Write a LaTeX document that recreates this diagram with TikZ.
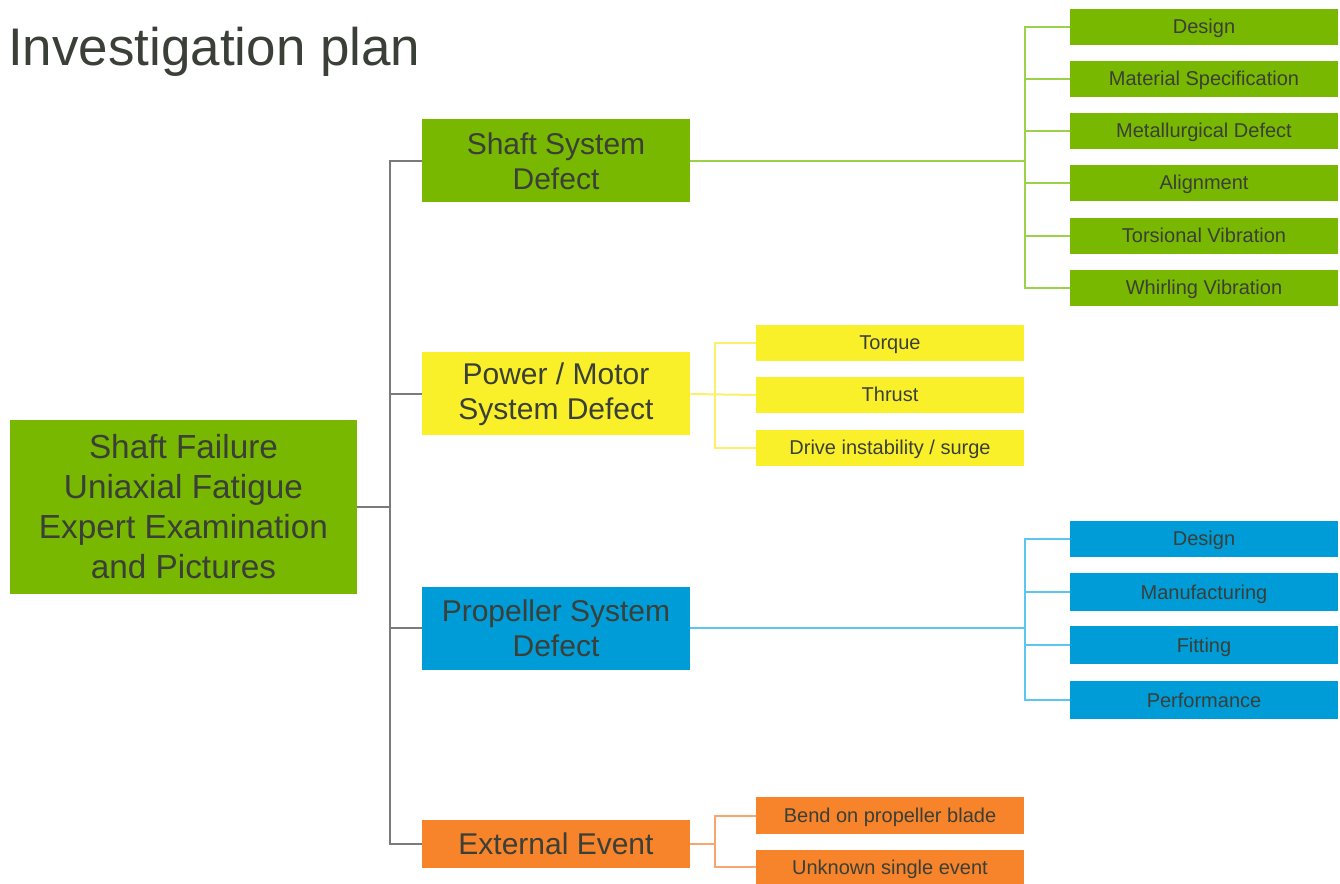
\documentclass[tikz,border=0pt]{standalone}
\usepackage{fontspec}
\setmainfont{Liberation Sans}
\definecolor{gbox}{HTML}{78B800}
\definecolor{ybox}{HTML}{FAF02A}
\definecolor{bbox}{HTML}{009CD8}
\definecolor{obox}{HTML}{F7832A}
\definecolor{gline}{HTML}{9CD14A}
\definecolor{yline}{HTML}{FAF06A}
\definecolor{bline}{HTML}{5CC6F2}
\definecolor{oline}{HTML}{F8A56E}
\definecolor{trunkc}{HTML}{7A7A7A}
\definecolor{txt}{HTML}{3A3F38}
\tikzset{
  box/.style={rectangle, inner sep=0pt, align=center, text=txt},
  rootbox/.style={box, fill=gbox, minimum width=260.25pt, minimum height=130.5pt, font=\fontsize{25}{30}\selectfont},
  midbox/.style={box, minimum width=201pt, minimum height=62.25pt, font=\fontsize{22.5}{26}\selectfont},
  leafbox/.style={box, minimum width=201pt, minimum height=27pt, font=\fontsize{15}{18}\selectfont, text height=10.5pt, text depth=0pt},
  trunkline/.style={draw=trunkc, line width=1.5pt},
  gl/.style={draw=gline, line width=1.5pt},
  yl/.style={draw=yline, line width=1.5pt},
  bl/.style={draw=bline, line width=1.5pt},
  ol/.style={draw=oline, line width=1.5pt},
}
\begin{document}
\begin{tikzpicture}[x=0.75pt, y=-0.75pt]
\useasboundingbox (0,0) rectangle (1340,884);
\fill[white] (0,0) rectangle (1340,884);

\node[anchor=base west, inner sep=0pt, text=txt, font=\fontsize{39.7}{46}\selectfont] (title) at (8,66) {Investigation plan};

% main nodes
\node[rootbox] (root) at (183.5,507) {Shaft Failure\\Uniaxial Fatigue\\Expert Examination\\and Pictures};
\node[midbox, fill=gbox] (ss) at (556,161) {Shaft System\\Defect};
\node[midbox, fill=ybox] (pm) at (556,394) {Power / Motor\\System Defect};
\node[midbox, fill=bbox] (pr) at (556,628) {Propeller System\\Defect};
\node[midbox, fill=obox, minimum height=36pt, text height=16pt, text depth=0pt] (ex) at (556,844) {External Event};

% shaft children
\node[leafbox, fill=gbox] (g1) at (1204,27) {Design};
\node[leafbox, fill=gbox] (g2) at (1204,79) {Material Specification};
\node[leafbox, fill=gbox] (g3) at (1204,131) {Metallurgical Defect};
\node[leafbox, fill=gbox] (g4) at (1204,183) {Alignment};
\node[leafbox, fill=gbox] (g5) at (1204,236) {Torsional Vibration};
\node[leafbox, fill=gbox] (g6) at (1204,288) {Whirling Vibration};

% power children
\node[leafbox, fill=ybox] (y1) at (890,343) {Torque};
\node[leafbox, fill=ybox] (y2) at (890,395) {Thrust};
\node[leafbox, fill=ybox] (y3) at (890,448) {Drive instability / surge};

% propeller children
\node[leafbox, fill=bbox] (b1) at (1204,539) {Design};
\node[leafbox, fill=bbox, minimum height=28.5pt] (b2) at (1204,592) {Manufacturing};
\node[leafbox, fill=bbox, minimum height=28.5pt] (b3) at (1204,645) {Fitting};
\node[leafbox, fill=bbox, minimum height=28.5pt] (b4) at (1204,700) {Performance};

% external children
\node[leafbox, fill=obox, minimum height=27.75pt] (o1) at (890,815.5) {Bend on propeller blade};
\node[leafbox, fill=obox, minimum height=25.5pt] (o2) at (890,867) {Unknown single event};

% bus coordinates
\coordinate (tk) at (390,0);
\coordinate (gb) at (1025,0);
\coordinate (yb) at (715,0);

% trunk
\draw[trunkline] (root.east) -- (root.east -| tk);
\draw[trunkline] (ss.west) -- (ss.west -| tk) -- (ex.west -| tk) -- (ex.west);
\draw[trunkline] (pm.west) -- (pm.west -| tk);
\draw[trunkline] (pr.west) -- (pr.west -| tk);

% shaft branch
\draw[gl] (ss.east) -- (ss.east -| gb);
\draw[gl] (g1.west) -- (g1.west -| gb) -- (g6.west -| gb) -- (g6.west);
\foreach \n in {g2,g3,g4,g5} \draw[gl] (\n.west) -- (\n.west -| gb);

% power branch
\draw[yl] (pm.east) -- (y2.west);
\draw[yl] (y1.west) -- (y1.west -| yb) -- (y3.west -| yb) -- (y3.west);

% propeller branch
\draw[bl] (pr.east) -- (pr.east -| gb);
\draw[bl] (b1.west) -- (b1.west -| gb) -- (b4.west -| gb) -- (b4.west);
\foreach \n in {b2,b3} \draw[bl] (\n.west) -- (\n.west -| gb);

% external branch
\draw[ol] (ex.east) -- (ex.east -| yb);
\draw[ol] (o1.west) -- (o1.west -| yb) -- (o2.west -| yb) -- (o2.west);
\end{tikzpicture}
\end{document}
